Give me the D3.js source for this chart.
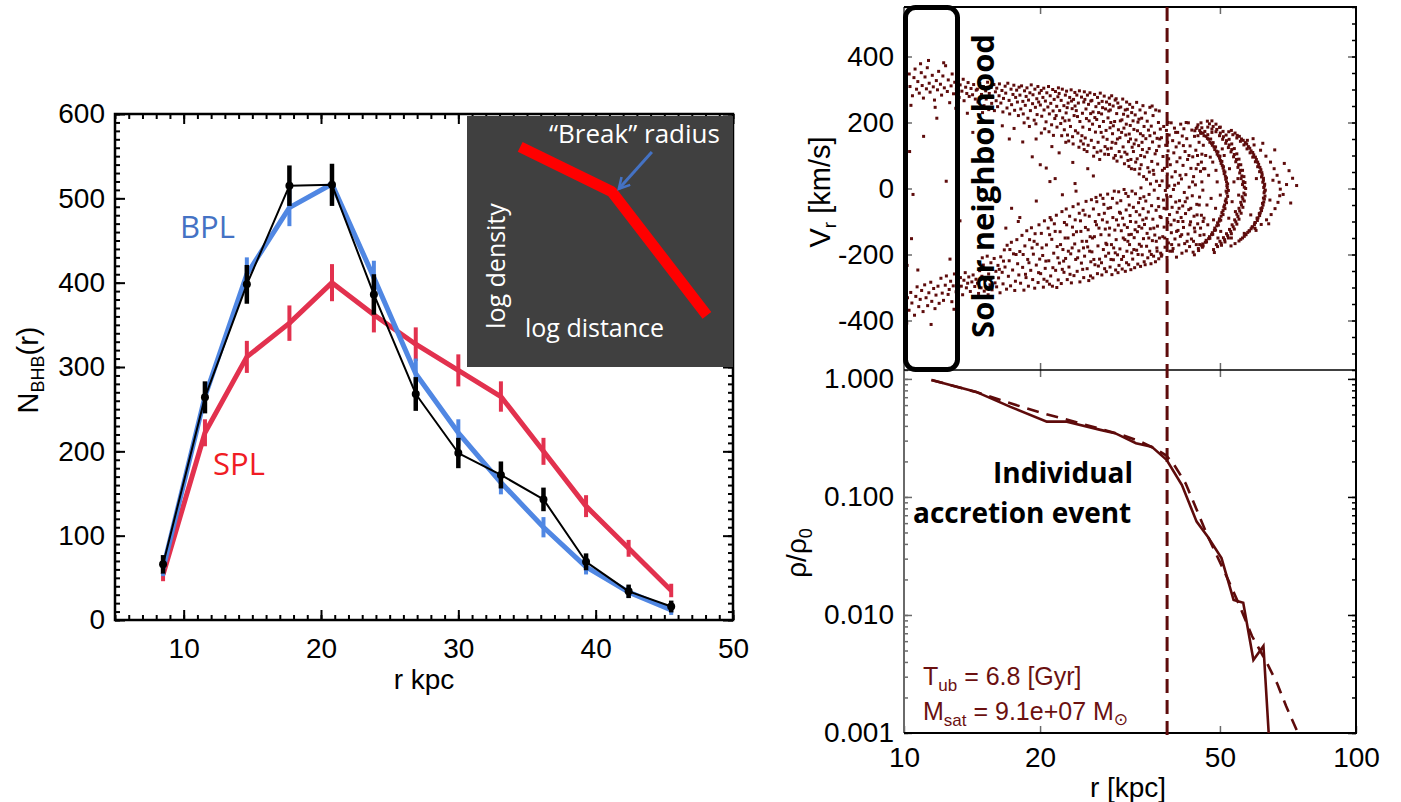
<!DOCTYPE html>
<html>
<head>
<meta charset="utf-8">
<script src="https://cdn.jsdelivr.net/npm/d3@7"></script>
<style>
body{margin:0;background:#fff;}
svg{display:block;}
text{font-family:"Liberation Sans",Arial,sans-serif;}
</style>
</head>
<body>
<svg id="chart" width="1401" height="802"></svg>
<script>
// ---------- left panel: BHB counts ----------
const radii = [8.5,11.55,14.6,17.7,20.8,23.85,26.9,30.0,33.1,36.2,39.3,42.4,45.5];
const dataCounts = [66,264,398,515,516,386,268,198,172,143,69,34,16];
const dataErr = [11,19,23,24,25,24,20,18,16,14,10,8,7];
const bplCounts = [61,265,410,489,517,406,292,222,163,110,63,33,12];
const bplErr = [9,17,20,22,23,20,18,16,14,12,9,7,6];
const splCounts = [54,222,312,352,400,362,327,296,265,200,135,85,35];
const splErr = [8,16,19,21,22,21,20,19,18,16,13,10,8];
const xTicksLeft = [10,20,30,40,50];
const yTicksLeft = [0,100,200,300,400,500,600];

// inset sketch: broken power law in unit box coords
const insetLaw = [[0.2,0.877],[0.545,0.698],[0.902,0.206]];
const insetArrow = [[0.695,0.857],[0.571,0.71]];

// ---------- right top: phase space (r kpc, Vr km/s) ----------
const solarUpper = [[10.05,331],[10.12,296],[10.27,347],[10.31,309],[10.44,281],[10.52,336],[10.58,362],[10.66,301],[10.73,324],[10.81,289],[10.92,351],[10.97,312],[11.04,274],[11.13,338],[11.21,302],[11.26,366],[11.37,319],[11.42,292],[11.55,343],[11.61,308],[11.68,268],[11.79,327],[11.86,299],[11.93,355],[12.04,316],[12.11,283],[12.19,341],[12.28,305],[12.36,372],[12.47,294],[12.53,329],[12.62,260],[12.71,311],[12.78,347],[12.87,287],[12.95,322],[13.06,301],[13.12,338],[13.24,276],[13.31,314],[13.43,295],[13.52,331],[13.58,266],[13.69,307],[13.77,288],[13.86,321],[13.94,279],[14.07,303],[14.18,284],[14.26,315],[14.38,271],[14.45,298],[11.33,388],[12.24,381],[10.36,252],[13.02,243],[10.88,378],[11.72,246]];
const solarLower = [[10.03,-388],[10.09,-352],[10.18,-331],[10.26,-369],[10.35,-315],[10.41,-347],[10.55,-384],[10.62,-327],[10.69,-298],[10.78,-358],[10.86,-336],[10.94,-309],[11.02,-373],[11.11,-292],[11.19,-331],[11.28,-355],[11.35,-316],[11.46,-284],[11.52,-342],[11.63,-303],[11.71,-364],[11.77,-323],[11.89,-296],[11.96,-348],[12.07,-272],[12.15,-317],[12.23,-339],[12.34,-293],[12.41,-265],[12.52,-321],[12.59,-306],[12.68,-281],[12.76,-343],[12.85,-295],[12.93,-259],[13.04,-313],[13.14,-286],[13.21,-302],[13.33,-270],[13.39,-296],[13.48,-322],[13.57,-278],[13.66,-255],[13.74,-301],[13.83,-287],[13.91,-268],[14.02,-312],[14.13,-283],[14.22,-262],[14.34,-297],[14.43,-275],[10.14,-408],[11.48,-412],[10.73,-247],[12.9,-366]];
const solarSparse = [[10.08,204],[10.29,112],[10.47,-18],[10.39,-152],[10.16,-233],[11.82,213],[12.64,-214],[13.81,228],[11.05,158],[12.4,22],[13.3,-98],[14.2,170]];
const upperArm = [[14.53,301],[14.58,262],[14.71,318],[14.77,244],[14.84,285],[14.99,309],[15.03,251],[15.16,296],[15.2,271],[15.31,322],[15.4,239],[15.44,288],[15.59,306],[15.63,258],[15.72,277],[15.81,315],[15.85,236],[15.93,293],[15.99,266],[14.92,230],
  [16.04,304],[16.11,248],[16.23,281],[16.26,317],[16.38,259],[16.47,297],[16.55,232],[16.6,273],[16.74,310],[16.79,289],[16.9,244],[16.97,319],[17.08,267],[17.13,226],[17.25,301],[17.3,254],[17.42,285],[17.5,313],[17.57,237],[17.66,276],[17.75,298],[17.82,262],[17.91,221],[17.97,307],
  [18.05,283],[18.13,241],[18.2,311],[18.32,264],[18.36,226],[18.48,296],[18.55,252],[18.63,279],[18.71,305],[18.8,213],[18.86,268],[18.99,290],[19.04,236],[19.12,314],[19.25,257],[19.29,284],[19.41,207],[19.48,301],[19.53,246],[19.67,272],[19.7,224],[19.78,309],[19.86,262],[19.93,289],[19.58,196],[18.44,199],
  [20.03,253],[20.12,297],[20.17,219],[20.29,276],[20.38,304],[20.41,238],[20.55,265],[20.62,202],[20.7,290],[20.81,247],[20.88,309],[20.97,226],[21.06,281],[21.12,258],[21.21,193],[21.33,300],[21.37,235],[21.49,270],[21.56,212],[21.63,294],[21.77,249],[21.8,186],[21.9,278],[21.96,305],[20.48,181],[21.41,161],[20.93,172],[21.71,221],
  [22.04,288],[22.1,236],[22.22,197],[22.27,267],[22.4,301],[22.44,214],[22.58,251],[22.63,178],[22.75,283],[22.84,229],[22.89,295],[23.0,162],[23.07,259],[23.19,207],[23.26,276],[23.35,188],[23.43,299],[23.55,242],[23.6,157],[23.72,270],[23.79,221],[23.88,291],[23.95,175],[22.33,160],[23.14,144],[23.67,135],[22.96,245],[23.48,265],[22.7,205],[23.9,250],
  [24.05,236],[24.12,283],[24.25,168],[24.31,259],[24.44,296],[24.5,203],[24.61,144],[24.7,277],[24.82,228],[24.87,186],[24.99,262],[25.06,293],[25.18,153],[25.27,241],[25.33,212],[25.46,283],[25.55,131],[25.6,255],[25.73,179],[25.79,290],[25.88,227],[25.97,146],[24.38,125],[25.4,112],[24.93,135],[25.13,270],[25.68,205],[24.2,218],[25.9,265],[24.75,160],
  [26.04,267],[26.13,195],[26.2,232],[26.33,124],[26.4,285],[26.52,171],[26.58,248],[26.69,209],[26.8,276],[26.88,140],[26.98,258],[27.07,188],[27.18,289],[27.25,114],[27.36,226],[27.44,264],[27.57,156],[27.62,203],[27.73,280],[27.85,127],[27.92,241],[27.99,176],[26.27,98],[27.1,88],[26.75,110],[27.5,245],[26.44,215],[27.3,170],[27.8,104],[26.95,230],
  [28.06,262],[28.14,149],[28.27,214],[28.33,103],[28.45,274],[28.56,184],[28.61,238],[28.74,122],[28.8,281],[28.93,166],[29.02,250],[29.11,92],[29.24,203],[29.32,268],[29.41,137],[29.55,227],[29.6,83],[29.72,259],[29.81,178],[29.93,112],[28.38,235],[29.05,190],[29.66,150],[28.68,200],[29.88,245],[28.21,120],[29.47,272],[28.88,140],[29.35,100],[28.5,255],
  [30.04,154],[30.16,247],[30.23,96],[30.35,208],[30.47,271],[30.53,126],[30.66,183],[30.74,75],[30.87,238],[30.95,162],[31.08,262],[31.14,104],[31.27,219],[31.39,142],[31.45,67],[31.58,255],[31.66,191],[31.77,88],[31.89,230],[31.97,125],[30.3,170],[30.8,110],[31.2,240],[31.5,165],[31.85,60],[30.6,225],[31.03,195],[31.7,150],[30.1,205],[31.3,85],
  [32.05,246],[32.18,112],[32.26,179],[32.39,58],[32.47,223],[32.6,147],[32.71,261],[32.8,90],[32.93,201],[33.05,130],[33.14,44],[33.27,238],[33.35,166],[33.48,72],[33.56,213],[33.69,118],[33.78,251],[33.9,36],[33.97,188],[32.3,135],[32.85,175],[33.4,100],[33.8,160],[32.55,80],[33.1,210],[33.62,140],[32.12,205],[33.25,60],
  [34.06,96],[34.19,229],[34.28,151],[34.4,28],[34.52,204],[34.63,63],[34.74,177],[34.87,121],[34.99,246],[35.1,14],[35.24,189],[35.33,82],[35.47,141],[35.56,221],[35.7,43],[35.82,168],[35.94,105],[36.05,238],[36.18,22],[36.3,152],[36.41,74],[36.55,200],[36.67,128],[36.78,9],[36.9,180],[34.5,110],[35.0,160],[35.6,55],[36.2,115],[36.7,235],[34.9,50],[35.4,250],
  [17.52,182],[18.31,141],[19.22,96],[20.13,168],[20.64,62],[21.24,127],[18.94,188],[22.04,108],[23.63,79],[25.04,118],[26.24,38],[24.02,-8],[19.6,150],[22.8,140],[21.6,30],[16.5,190],[17.1,150]];
const lowerArm = [[14.54,-287],[14.62,-318],[14.7,-249],[14.81,-301],[14.87,-266],[14.98,-232],[15.05,-311],[15.14,-278],[15.22,-244],[15.35,-322],[15.39,-259],[15.5,-292],[15.57,-225],[15.66,-307],[15.74,-270],[15.83,-212],[15.9,-286],[15.97,-251],[14.9,-210],[15.28,-205],
  [16.03,-298],[16.14,-233],[16.19,-271],[16.31,-316],[16.37,-207],[16.49,-254],[16.56,-289],[16.67,-186],[16.73,-238],[16.86,-305],[16.91,-172],[17.02,-266],[17.09,-219],[17.21,-295],[17.28,-163],[17.39,-247],[17.47,-198],[17.58,-309],[17.64,-281],[17.77,-155],[17.84,-228],[17.95,-262],[16.6,-220],[17.15,-185],[17.7,-200],[16.25,-245],
  [18.04,-191],[18.11,-287],[18.24,-142],[18.3,-239],[18.42,-308],[18.51,-174],[18.57,-260],[18.69,-128],[18.78,-215],[18.85,-296],[18.96,-155],[19.07,-248],[19.14,-119],[19.26,-276],[19.33,-199],[19.46,-302],[19.5,-137],[19.62,-232],[19.71,-169],[19.8,-285],[19.89,-110],[19.96,-214],[18.35,-200],[18.9,-225],[19.4,-160],[19.85,-255],[18.62,-270],[19.2,-180],
  [20.06,-258],[20.13,-136],[20.27,-203],[20.34,-299],[20.45,-98],[20.53,-242],[20.66,-171],[20.72,-281],[20.84,-120],[20.91,-219],[21.05,-88],[21.11,-265],[21.23,-154],[21.3,-296],[21.44,-196],[21.51,-107],[21.65,-248],[21.73,-81],[21.82,-176],[21.94,-277],[20.2,-180],[20.6,-220],[21.0,-140],[21.35,-240],[21.6,-130],[21.9,-210],[20.4,-275],[20.98,-290],[21.18,-95],[21.78,-300],
  [22.07,-226],[22.15,-131],[22.28,-288],[22.36,-70],[22.47,-185],[22.59,-254],[22.64,-103],[22.78,-212],[22.85,-62],[22.97,-276],[23.06,-150],[23.17,-238],[23.25,-84],[23.38,-198],[23.46,-286],[23.59,-117],[23.66,-55],[23.77,-264],[23.86,-168],[23.98,-215],[22.2,-170],[22.55,-220],[22.9,-110],[23.3,-260],[23.7,-140],[23.92,-95],[22.4,-245],[23.1,-190],[23.55,-180],[22.72,-150],
  [24.08,-131],[24.16,-251],[24.29,-47],[24.37,-189],[24.5,-283],[24.57,-98],[24.69,-226],[24.78,-160],[24.9,-66],[24.98,-270],[25.09,-205],[25.2,-118],[25.28,-39],[25.42,-243],[25.49,-177],[25.63,-279],[25.7,-84],[25.81,-146],[25.9,-222],[25.98,-34],[24.22,-210],[24.62,-130],[24.85,-245],[25.15,-80],[25.55,-125],[25.86,-265],[24.42,-75],[25.35,-160],[25.75,-190],[24.95,-180],
  [26.05,-192],[26.17,-271],[26.24,-62],[26.38,-146],[26.45,-231],[26.59,-27],[26.66,-110],[26.79,-258],[26.86,-174],[26.99,-79],[27.08,-214],[27.2,-20],[27.27,-140],[27.4,-262],[27.48,-95],[27.61,-185],[27.68,-48],[27.79,-243],[27.88,-123],[27.97,-166],[26.3,-215],[26.7,-40],[27.0,-120],[27.35,-225],[27.75,-75],[26.5,-100],[26.92,-235],[27.55,-30],[27.93,-205],[26.12,-150],
  [28.03,-252],[28.15,-102],[28.22,-17],[28.36,-196],[28.43,-141],[28.57,-238],[28.65,-58],[28.77,-170],[28.84,-261],[28.98,-88],[29.06,-216],[29.19,-8],[29.27,-126],[29.39,-247],[29.47,-155],[29.6,-44],[29.68,-201],[29.8,-111],[29.9,-233],[29.97,-72],[28.28,-60],[28.7,-215],[29.1,-180],[29.52,-95],[29.85,-10],[28.5,-120],[28.92,-30],[29.33,-195],[29.75,-255],[28.1,-170],
  [30.04,-183],[30.17,-37],[30.25,-128],[30.39,-244],[30.46,-90],[30.58,-206],[30.68,-3],[30.8,-155],[30.88,-251],[31.01,-65],[31.13,-190],[31.2,-118],[31.34,-24],[31.41,-231],[31.55,-170],[31.63,-82],[31.76,-246],[31.84,-139],[31.95,-8],[30.3,-215],[30.72,-110],[31.07,-225],[31.5,-50],[31.9,-195],[30.55,-150],[30.95,-15],[31.28,-160],[31.7,-100],[30.12,-75],[31.45,-140],
  [32.06,-214],[32.17,-57],[32.3,-149],[32.38,-240],[32.52,-16],[32.59,-102],[32.71,-187],[32.84,-131],[32.9,-229],[33.03,-43],[33.16,-169],[33.23,-80],[33.37,-236],[33.44,2],[33.58,-120],[33.66,-201],[33.8,-61],[33.87,-152],[33.99,-222],[32.25,-185],[32.65,-70],[33.1,-115],[33.5,-175],[33.93,-25],[32.45,-125],[32.95,-200],[33.3,-30],[33.75,-95],
  [34.05,-109],[34.16,-231],[34.27,-38],[34.41,-175],[34.5,-136],[34.62,-210],[34.71,-71],[34.85,-18],[34.96,-190],[35.07,-122],[35.19,-228],[35.3,-52],[35.44,-158],[35.53,-93],[35.66,-205],[35.78,-5],[35.88,-141],[36.0,-222],[36.12,-66],[36.26,-180],[36.37,-114],[36.5,-30],[36.61,-213],[36.74,-150],[36.86,-85],[36.97,-196],[34.35,-90],[34.8,-150],[35.25,-200],[35.7,-120],[36.15,-160],[36.6,-55],
  [18.04,-88],[19.62,-38],[21.03,21],[22.41,-19],[20.02,72],[17.3,-60],[23.9,15],[25.5,60],[16.8,-120],[17.9,-100]];
const centerClump = [[37.05,-88],[37.12,154],[37.19,-201],[37.24,23],[37.36,-146],[37.41,97],[37.49,-35],[37.55,188],[37.63,-117],[37.69,61],[37.8,-178],[37.86,-6],[37.93,131],[38.01,-62],[38.07,176],[38.18,-209],[38.24,44],[38.32,-103],[38.39,114],[38.46,-165],[38.55,8],[38.61,162],[38.68,-79],[38.76,-190],[38.83,72],[38.91,-24],[39.0,199],[39.04,-134],[39.15,35],[39.19,-57],[39.3,145],[39.38,-182],[39.45,-3],[39.53,108],[39.61,-96],[39.66,183],[39.76,-153],[39.83,51],[39.92,-41],[40.0,126],[40.07,-208],[40.16,81],[40.22,-72],[40.31,170],[40.38,-127],[40.47,16],[40.55,-171],[40.62,138],[40.7,-37],[40.79,93],[40.87,-145],[40.94,195],[41.03,-88],[41.1,29],[41.2,-196],[41.27,159],[41.36,-53],[41.43,70],[41.53,-118],[41.61,181],[41.7,-12],[41.78,-167],[41.86,112],[41.96,-76],[42.04,42],[42.13,-189],[42.22,151],[42.31,-29],[42.4,88],[42.5,-138],[42.57,199],[42.67,-64],[42.75,4],[42.84,-176],[42.95,129],[43.05,-101],[43.13,61],[43.24,-153],[43.33,177],[43.43,-22],[43.53,96],[43.62,-193],[43.72,36],[43.82,-84],[43.92,158],[44.02,-131],[44.13,11],[44.22,116],[44.33,-170],[44.44,-48],[44.53,186],[44.64,-107],[44.74,73],[44.85,-188],[44.96,140],[45.07,-26],[45.17,-142],[45.28,52],[45.39,167],[45.5,-81],[45.61,104],[45.72,-178],[45.83,-5],[45.94,131],
  [37.3,55],[37.75,-150],[38.1,-20],[38.5,90],[38.95,-110],[39.25,-190],[39.7,10],[40.1,-130],[40.4,-100],[40.8,40],[41.15,-140],[41.5,130],[41.9,-40],[42.3,-160],[42.7,100],[43.1,-60],[43.5,20],[43.9,-120],[44.3,60],[44.7,160],[45.1,-170],[45.5,80],[45.9,-100],[37.6,-60],[38.3,140],[39.1,-170],[39.9,170],[40.6,-60],[41.4,-100],[42.1,200],[42.9,-110],[43.7,-160],[44.5,-80],[45.3,-120],[46.0,60],
  [36.8,150],[36.3,-190],[37.1,-205],[38.4,200]];
const shells = [[44.3,182],[45.1,176],[45.9,168],[46.6,158],[47.2,149],[47.9,137],[48.5,126],[49.1,113],[49.6,99],[50.1,85],[50.6,70],[51.0,54],[51.4,37],[51.7,20],[51.9,3],[51.8,-14],[51.6,-32],[51.2,-50],[50.8,-67],[50.3,-84],[49.8,-99],[49.2,-113],[48.6,-127],[47.9,-140],[47.2,-152],[46.4,-163],[45.6,-173],[44.8,-182],
  [44.7,193],[45.6,184],[46.3,173],[47.0,163],[47.7,150],[48.3,139],[48.9,126],[49.5,111],[50.0,98],[50.5,82],[50.9,66],[51.3,50],[51.7,32],[52.0,14],[52.2,-6],[52.0,-24],[51.7,-43],[51.3,-61],[50.8,-79],[50.2,-96],[49.6,-111],[48.9,-126],[48.2,-139],[47.5,-151],[46.7,-162],[45.9,-174],
  [44.0,175],[45.3,170],[46.1,160],[46.9,152],[47.5,140],[48.1,131],[48.7,118],[49.3,104],[49.9,92],[50.3,76],[50.8,62],[51.1,45],[51.5,28],[51.8,9],[51.6,-8],[51.4,-38],[51.0,-56],[50.5,-73],[49.9,-92],[49.4,-104],[48.7,-120],[48.1,-134],[47.4,-146],[46.6,-157],[45.8,-168],
  [47.4,196],[48.3,188],[49.2,179],[50.1,168],[50.9,157],[51.7,145],[52.4,132],[53.1,118],[53.8,103],[54.4,88],[55.0,72],[55.5,55],[55.9,38],[56.3,21],[56.6,4],[56.5,-14],[56.2,-32],[55.8,-50],[55.3,-68],[54.8,-85],[54.2,-101],[53.5,-116],[52.8,-130],[52.0,-143],[51.2,-155],[50.3,-166],[49.4,-176],[48.4,-185],
  [48.0,205],[49.0,195],[49.9,185],[50.8,173],[51.6,162],[52.4,149],[53.1,135],[53.8,121],[54.5,105],[55.1,89],[55.6,72],[56.1,55],[56.5,36],[56.8,18],[57.0,0],[56.9,-19],[56.6,-38],[56.2,-57],[55.7,-75],[55.1,-93],[54.5,-108],[53.8,-123],[53.0,-137],[52.2,-150],[51.3,-162],[50.4,-172],
  [47.0,186],[48.0,180],[49.0,172],[49.9,160],[50.7,149],[51.5,137],[52.2,124],[52.9,111],[53.6,96],[54.2,81],[54.8,64],[55.3,47],[55.7,30],[56.1,12],[56.0,-25],[55.6,-42],[55.1,-60],[54.5,-78],[53.9,-95],[53.2,-110],[52.5,-124],[51.7,-137],[50.9,-149],[50.0,-160],[49.1,-170],
  [52.3,172],[53.4,163],[54.5,153],[55.5,143],[56.5,132],[57.4,120],[58.3,108],[59.1,95],[59.9,81],[60.6,66],[61.2,51],[61.8,35],[62.2,19],[62.5,3],[62.6,-13],[62.4,-29],[62.1,-45],[61.6,-61],[61.1,-76],[60.4,-90],[59.7,-104],[58.9,-117],[58.0,-129],[57.1,-140],[56.1,-150],[55.1,-159],[54.0,-167],[52.9,-174],
  [54.0,168],[55.2,158],[56.3,146],[57.3,135],[58.2,122],[59.1,109],[59.9,95],[60.6,80],[61.3,64],[61.9,48],[62.4,31],[62.8,13],[63.0,-5],[62.9,-23],[62.5,-41],[62.0,-58],[61.4,-74],[60.7,-89],[59.9,-103],[59.0,-116],[58.1,-128],[57.0,-139],
  [53.0,176],[54.6,161],[55.8,150],[56.9,139],[57.8,127],[58.6,114],[59.4,102],[60.2,88],[60.9,73],[61.6,57],[62.0,41],[62.4,25],[62.7,8],[62.8,-8],[62.7,-32],[62.3,-50],[61.8,-67],[61.2,-82],[60.5,-97],[59.6,-110],[58.6,-122],[57.6,-133],[56.6,-145],[55.6,-154],
  [57.5,146],[59.5,132],[61.5,116],[63.2,98],[64.7,80],[65.9,60],[66.9,40],[67.6,19],[68.0,-2],[67.8,-22],[67.2,-42],[66.2,-61],[64.9,-79],[63.4,-95],[61.7,-109],[59.8,-121],
  [46.5,100],[47.2,40],[47.8,-30],[48.2,80],[48.9,-60],[49.3,20],[50.1,-20],[50.6,120],[46.1,-90],[47.0,-110],[48.0,170],[49.5,-150],[52.5,60],[53.2,-40],[53.7,20],[54.1,-70],[54.8,30],[55.0,-20],[46.3,60],[46.8,-50],[47.6,95],[48.4,-95],[49.0,55],[50.2,-130],[51.1,100],[52.3,-90],[44.6,100],[45.0,-50],[45.6,20],[46.1,-140],
  [72.4,31],[71.1,54],[73.9,9],[71.7,-44],[69.4,76],[66.1,117],[62.2,137],[59.2,151],[56.6,-136],[60.1,-127],[64.1,-107],[70.2,12],[69.0,-18],[65.5,25],[64.5,-35],[46.9,204],[45.4,199],[50.1,186],[48.6,-194],[43.9,-201],[53.0,-150],[58.5,-80],[60.2,30]];
const breakRadius = 38.2;
const vTicks = [-400,-200,0,200,400];

// ---------- right bottom: density profile ----------
const profileR = [11.5,14.4,17.2,20.7,22.8,27.2,29.3,32.6,35.3,38.1,41.2,44.4,47.0,50.4,53.6,56.3,59.3,62.4,64.2];
const profileRho = [0.98,0.78,0.58,0.435,0.435,0.37,0.347,0.285,0.267,0.206,0.126,0.0618,0.046,0.0303,0.0134,0.0127,0.00416,0.00546,0.0009];
const modelR = [11.5,14.5,17,20,23,27,30,33,36,38,39.5,42,44,46.7,49,51.8,55,58.9,61,64,67,70,74,77];
const modelRho = [0.98,0.77,0.63,0.52,0.45,0.38,0.34,0.3,0.255,0.225,0.19,0.13,0.085,0.049,0.033,0.021,0.0125,0.0066,0.0052,0.0037,0.0026,0.0017,0.00105,0.0008];
const rTicks = [10,20,50,100];
const rhoTicks = [1,0.1,0.01,0.001];

const svg = d3.select("#chart");
const maroon = "#5e0b0b";

const styleAxis = (g, color, width, size) => {
	g.select(".domain").remove();
	g.selectAll(".tick line").attr("stroke", color).attr("stroke-width", width);
	g.selectAll(".tick text").attr("fill", "#000")
		.style("font-family", "'Liberation Sans', Arial, sans-serif")
		.style("font-size", size + "px");
}

const addAxis = (axis, tx, ty, color, width) => {
	let g = svg.append("g").attr("transform", `translate(${tx},${ty})`).call(axis);
	styleAxis(g, color, width, 28);
	return g;
}

// ================= LEFT PANEL =================
const lx = d3.scaleLinear().domain([5,50]).range([115,733]);
const ly = d3.scaleLinear().domain([0,600]).range([620,114]);

addAxis(d3.axisBottom(lx).tickValues(xTicksLeft).tickSize(-10).tickSizeOuter(0).tickPadding(18), 0, 620, "#000", 2);
addAxis(d3.axisBottom(lx).tickValues(lx.ticks(45)).tickSize(-5).tickSizeOuter(0).tickFormat(""), 0, 620, "#000", 2);
addAxis(d3.axisTop(lx).tickValues(xTicksLeft).tickSize(-10).tickSizeOuter(0).tickFormat(""), 0, 114, "#000", 2);
addAxis(d3.axisTop(lx).tickValues(lx.ticks(45)).tickSize(-5).tickSizeOuter(0).tickFormat(""), 0, 114, "#000", 2);
addAxis(d3.axisLeft(ly).tickValues(yTicksLeft).tickSize(-10).tickSizeOuter(0).tickPadding(10), 115, 0, "#000", 2);
addAxis(d3.axisLeft(ly).tickValues(ly.ticks(60)).tickSize(-5).tickSizeOuter(0).tickFormat(""), 115, 0, "#000", 2);
addAxis(d3.axisRight(ly).tickValues(yTicksLeft).tickSize(-10).tickSizeOuter(0).tickFormat(""), 733, 0, "#000", 2);
addAxis(d3.axisRight(ly).tickValues(ly.ticks(60)).tickSize(-5).tickSizeOuter(0).tickFormat(""), 733, 0, "#000", 2);

svg.append("rect").attr("x",115).attr("y",114).attr("width",618).attr("height",506)
	.attr("fill","none").attr("stroke","#000").attr("stroke-width",2.5);

const series = [
	{vals: splCounts, err: splErr, color: "#e2314e", lw: 5, ew: 4, dots: false},
	{vals: bplCounts, err: bplErr, color: "#5087e3", lw: 5, ew: 4, dots: false},
	{vals: dataCounts, err: dataErr, color: "#000", lw: 2, ew: 4.5, dots: true}
];
const countLine = d3.line().x((d,i) => lx(radii[i])).y((d) => ly(d));
series.forEach((s) => {
	let g = svg.append("g");
	g.append("path").attr("d", countLine(s.vals)).attr("fill","none")
		.attr("stroke", s.color).attr("stroke-width", s.lw).attr("stroke-linejoin","round");
	g.selectAll("line").data(s.vals).enter().append("line")
		.attr("x1", (d,i) => lx(radii[i])).attr("x2", (d,i) => lx(radii[i]))
		.attr("y1", (d,i) => ly(d - s.err[i])).attr("y2", (d,i) => ly(d + s.err[i]))
		.attr("stroke", s.color).attr("stroke-width", s.ew);
	if (s.dots) {
		g.selectAll("circle").data(s.vals).enter().append("circle")
			.attr("cx", (d,i) => lx(radii[i])).attr("cy", (d) => ly(d)).attr("r", 4).attr("fill","#000");
	}
});

svg.append("text").attr("x",180).attr("y",238).attr("fill","#4472c4")
	.style("font-family","'Open Sans',sans-serif").style("font-size","31px").text("BPL");
svg.append("text").attr("x",213).attr("y",475).attr("fill","#f01c24")
	.style("font-family","'Open Sans',sans-serif").style("font-size","31px").text("SPL");

let nLabel = svg.append("text").attr("transform","translate(38,370) rotate(-90)")
	.attr("text-anchor","middle").style("font-size","29px");
nLabel.append("tspan").text("N");
nLabel.append("tspan").attr("dy",6).style("font-size","18px").text("BHB");
nLabel.append("tspan").attr("dy",-6).text("(r)");

svg.append("text").attr("x",424).attr("y",689).attr("text-anchor","middle")
	.style("font-size","28px").text("r kpc");

// inset
const ix = d3.scaleLinear().domain([0,1]).range([467,733]);
const iy = d3.scaleLinear().domain([0,1]).range([367,116]);
svg.append("rect").attr("x", ix(0)).attr("y", iy(1)).attr("width", ix(1)-ix(0)).attr("height", iy(0)-iy(1))
	.attr("fill","#404040");
svg.append("path").attr("d", d3.line().x(d => ix(d[0])).y(d => iy(d[1]))(insetLaw))
	.attr("fill","none").attr("stroke","#ff0000").attr("stroke-width",11).attr("stroke-linejoin","bevel");
svg.append("defs").append("marker").attr("id","arrowHead")
	.attr("viewBox","0 0 12 12").attr("refX",10).attr("refY",6)
	.attr("markerWidth",14).attr("markerHeight",14).attr("markerUnits","userSpaceOnUse").attr("orient","auto")
	.append("path").attr("d","M1,1 L10,6 L1,11").attr("fill","none").attr("stroke","#4472c4").attr("stroke-width",2.2);
svg.append("path").attr("d", d3.line().x(d => ix(d[0])).y(d => iy(d[1]))(insetArrow))
	.attr("stroke","#4472c4").attr("stroke-width",3).attr("marker-end","url(#arrowHead)");
const insetFont = (t, size) => t.attr("fill","#fff").style("font-family","'Open Sans',sans-serif").style("font-size", size + "px");
insetFont(svg.append("text").attr("x",549).attr("y",143), 26).text("\u201CBreak\u201D radius");
insetFont(svg.append("text").attr("x",525).attr("y",337), 25).text("log distance");
insetFont(svg.append("text").attr("transform","translate(505,266) rotate(-90)").attr("text-anchor","middle"), 25).text("log density");

// ================= RIGHT PANELS =================
const rx = d3.scaleLog().domain([10,100]).range([904,1356]);
const vy = d3.scaleLinear().domain([-550,550]).range([370,7]);
const dy = d3.scaleLog().domain([0.001,1.19]).range([733,370]);
const grey = "#6a6a6a";

// top panel ticks
addAxis(d3.axisTop(rx).tickValues([20,50]).tickSize(-7).tickSizeOuter(0).tickFormat(""), 0, 7, grey, 1.5);
addAxis(d3.axisBottom(rx).tickValues([20,50]).tickSize(-7).tickSizeOuter(0).tickFormat(""), 0, 370, grey, 1.5);
addAxis(d3.axisLeft(vy).tickValues(vTicks).tickSize(-8).tickSizeOuter(0).tickPadding(10).tickFormat(d => String(d)), 904, 0, grey, 1.5);
addAxis(d3.axisLeft(vy).tickValues(vy.ticks(22)).tickSize(-4).tickSizeOuter(0).tickFormat(""), 904, 0, grey, 1.5);
addAxis(d3.axisRight(vy).tickValues(vTicks).tickSize(-8).tickSizeOuter(0).tickFormat(""), 1356, 0, grey, 1.5);
addAxis(d3.axisRight(vy).tickValues(vy.ticks(22)).tickSize(-4).tickSizeOuter(0).tickFormat(""), 1356, 0, "#000", 1.5);

// bottom panel ticks
addAxis(d3.axisTop(rx).tickValues([20,50]).tickSize(-7).tickSizeOuter(0).tickFormat(""), 0, 370, grey, 1.5);
addAxis(d3.axisBottom(rx).tickValues(rTicks).tickSize(-7).tickSizeOuter(0).tickPadding(14).tickFormat(d => String(d)), 0, 733, grey, 1.5);
addAxis(d3.axisLeft(dy).tickValues(rhoTicks).tickSize(-8).tickSizeOuter(0).tickPadding(10).tickFormat(d3.format(".3f")), 904, 0, grey, 1.5);
addAxis(d3.axisLeft(dy).tickValues(dy.ticks()).tickSize(-4).tickSizeOuter(0).tickFormat(""), 904, 0, grey, 1.5);
addAxis(d3.axisRight(dy).tickValues(rhoTicks).tickSize(-8).tickSizeOuter(0).tickFormat(""), 1356, 0, "#000", 1.5);
addAxis(d3.axisRight(dy).tickValues(dy.ticks()).tickSize(-4).tickSizeOuter(0).tickFormat(""), 1356, 0, "#000", 1.5);

// frames
svg.append("line").attr("x1",904).attr("x2",904).attr("y1",7).attr("y2",733).attr("stroke",grey).attr("stroke-width",2);
svg.append("path").attr("d","M904,7H1356V733H904").attr("fill","none").attr("stroke","#000").attr("stroke-width",2);
svg.append("line").attr("x1",904).attr("x2",1356).attr("y1",370).attr("y2",370).attr("stroke","#000").attr("stroke-width",1.5);

// scatter
const phasePoints = [].concat(solarUpper, solarLower, solarSparse, upperArm, lowerArm, centerClump, shells);
svg.append("g").selectAll("rect").data(phasePoints).enter().append("rect")
	.attr("x", d => rx(d[0]) - 1.5).attr("y", d => vy(d[1]) - 1.5)
	.attr("width", 3).attr("height", 3).attr("fill", "#5e0c0c");

// break radius marker across both panels
svg.append("line").attr("x1", rx(breakRadius)).attr("x2", rx(breakRadius)).attr("y1", 7).attr("y2", 735)
	.attr("stroke", maroon).attr("stroke-width", 3).attr("stroke-dasharray", "14,7");

// density profile
svg.append("clipPath").attr("id","lowerClip").append("rect")
	.attr("x",904).attr("y",370).attr("width",452).attr("height",363);
const profileLine = d3.line().x((d,i) => rx(profileR[i])).y(d => dy(d));
const modelLine = d3.line().x((d,i) => rx(modelR[i])).y(d => dy(d));
svg.append("path").attr("d", modelLine(modelRho)).attr("clip-path","url(#lowerClip)")
	.attr("fill","none").attr("stroke",maroon).attr("stroke-width",2.6).attr("stroke-dasharray","12,8");
svg.append("path").attr("d", profileLine(profileRho)).attr("clip-path","url(#lowerClip)")
	.attr("fill","none").attr("stroke",maroon).attr("stroke-width",2.6);

// solar neighbourhood box
svg.append("rect").attr("x",905.5).attr("y",7.5).attr("width",52).attr("height",362).attr("rx",10)
	.attr("fill","none").attr("stroke","#000").attr("stroke-width",5);
svg.append("text").attr("transform","translate(994,186) rotate(-90)").attr("text-anchor","middle")
	.style("font-family","'Open Sans',sans-serif").style("font-weight","700").style("font-size","31px")
	.text("Solar neighborhood");

const boldNote = (t) => t.style("font-family","'Open Sans',sans-serif").style("font-weight","700").style("font-size","28px");
boldNote(svg.append("text").attr("x",993).attr("y",483)).text("Individual");
boldNote(svg.append("text").attr("x",913).attr("y",523)).text("accretion event");

let tLabel = svg.append("text").attr("x",923).attr("y",685).attr("fill","#6b1010").style("font-size","25px");
tLabel.append("tspan").text("T");
tLabel.append("tspan").attr("dy",6).style("font-size","17px").text("ub");
tLabel.append("tspan").attr("dy",-6).text(" = 6.8 [Gyr]");
let mLabel = svg.append("text").attr("x",923).attr("y",720).attr("fill","#6b1010").style("font-size","25px");
mLabel.append("tspan").text("M");
mLabel.append("tspan").attr("dy",6).style("font-size","17px").text("sat");
mLabel.append("tspan").attr("dy",-6).text(" = 9.1e+07 M");
mLabel.append("tspan").attr("dy",5).style("font-size","17px").style("font-family","'DejaVu Sans',sans-serif").text("\u2299");

let vLabel = svg.append("text").attr("transform","translate(830,192) rotate(-90)")
	.attr("text-anchor","middle").style("font-size","29px");
vLabel.append("tspan").text("V");
vLabel.append("tspan").attr("dy",6).style("font-size","19px").text("r");
vLabel.append("tspan").attr("dy",-6).text(" [km/s]");

let rhoLabel = svg.append("text").attr("transform","translate(806,553) rotate(-90)")
	.attr("text-anchor","middle").style("font-size","28px");
rhoLabel.append("tspan").text("\u03C1/\u03C1");
rhoLabel.append("tspan").attr("dy",6).style("font-size","18px").text("0");

svg.append("text").attr("x",1128).attr("y",797).attr("text-anchor","middle")
	.style("font-size","28px").text("r [kpc]");
</script>
</body>
</html>
